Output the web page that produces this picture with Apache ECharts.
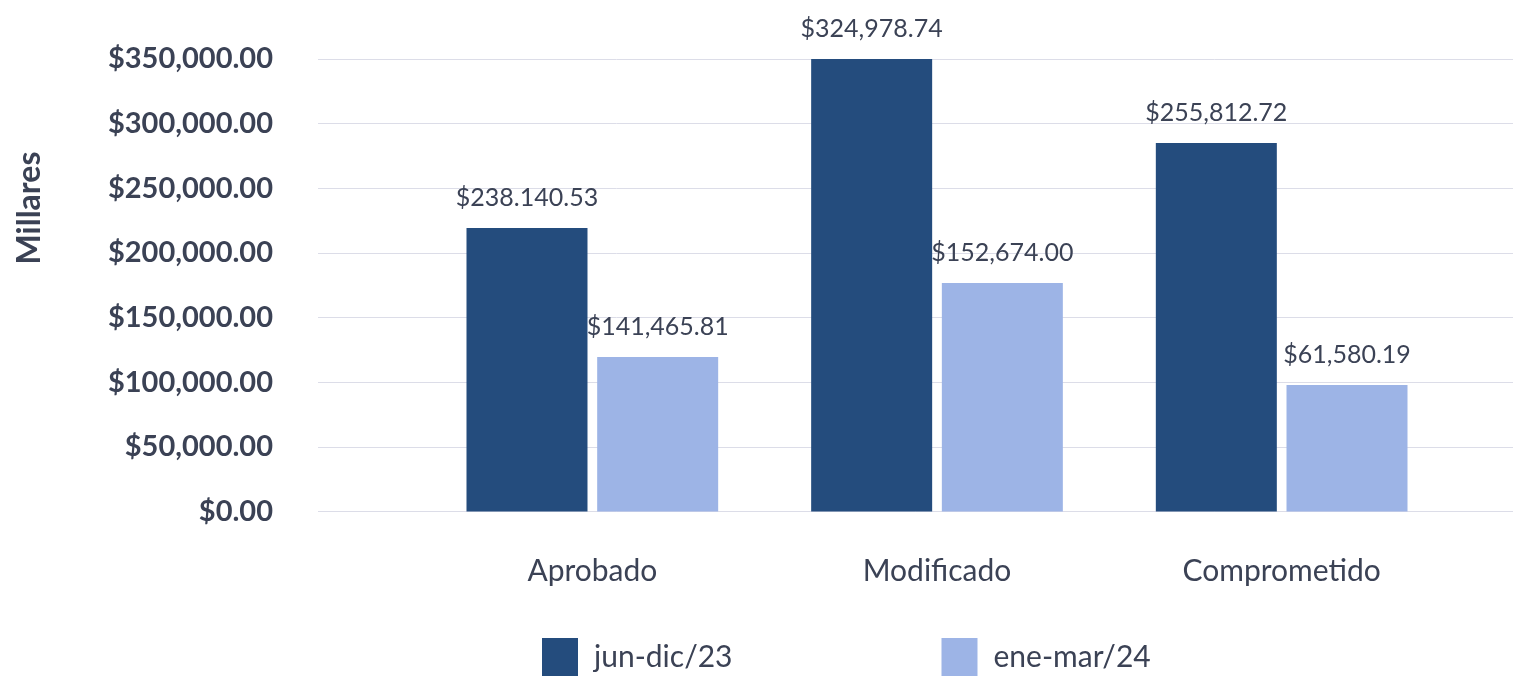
<!DOCTYPE html>
<html>
<head>
<meta charset="utf-8">
<script src="https://cdn.jsdelivr.net/npm/echarts@6/dist/echarts.min.js"></script>
<style>
  html, body { margin: 0; padding: 0; background: #fff; }
  #chart { width: 1513px; height: 679px; }
</style>
</head>
<body>
<div id="chart"></div>
<script>
// categorias y series
var categories = ['Aprobado', 'Modificado', 'Comprometido'];
var seriesNames = ['jun-dic/23', 'ene-mar/24'];
// altura de las barras tal como se ven en la grafica
var juneDec = [219300, 350000, 285000];
var eneMar = [119500, 176700, 97800];
// etiquetas tal como aparecen en la grafica
var juneDecLabels = ['$238.140.53', '$324,978.74', '$255,812.72'];
var eneMarLabels = ['$141,465.81', '$152,674.00', '$61,580.19'];
var yTicks = [0, 50000, 100000, 150000, 200000, 250000, 300000, 350000];

var textColor = '#3b4255';
var baseColor = ['#244c7d', '#9db4e6'];

function money(v) {
    return '$' + v.toLocaleString('en-US', {minimumFractionDigits: 2, maximumFractionDigits: 2});
}

var chart = echarts.init(document.getElementById('chart'));

var baseLabel = {
    show: true,
    position: 'top',
    distance: 18,
    fontFamily: 'Lato',
    fontSize: 25,
    color: textColor
};

var option = {
    color: baseColor,
    textStyle: { fontFamily: 'Lato' },
    grid: [
        // grid de las lineas y etiquetas del eje y
        { left: 318, right: 0, top: 59, bottom: 167.5 },
        // grid de las barras
        { left: 420, right: 59, top: 59, bottom: 167.5 }
    ],
    legend: {
        data: seriesNames,
        left: 542,
        top: 638,
        icon: 'rect',
        itemWidth: 36,
        itemHeight: 38,
        itemGap: 209,
        padding: 0,
        textStyle: {
            fontFamily: 'Lato',
            fontSize: 30,
            color: textColor,
            padding: [0, 0, 0, 11]
        }
    },
    graphic: [{
        type: 'text',
        x: 30,
        y: 208,
        rotation: Math.PI / 2,
        style: {
            text: 'Millares',
            fontFamily: 'Lato',
            fontSize: 32,
            fontWeight: 'bold',
            fill: textColor,
            align: 'center',
            verticalAlign: 'middle'
        }
    }],
    xAxis: [{
        gridIndex: 0,
        type: 'category',
        data: categories,
        show: false
    }, {
        gridIndex: 1,
        type: 'category',
        data: categories,
        axisLine: { show: false },
        axisTick: { show: false },
        axisLabel: {
            margin: 45,
            fontFamily: 'Lato',
            fontSize: 30,
            color: textColor
        }
    }],
    yAxis: [{
        gridIndex: 0,
        type: 'value',
        min: yTicks[0],
        max: yTicks[yTicks.length - 1],
        interval: yTicks[1] - yTicks[0],
        axisLine: { show: false },
        axisTick: { show: false },
        axisLabel: {
            margin: 45,
            fontFamily: 'Lato',
            fontSize: 29,
            fontWeight: 'bold',
            color: textColor,
            formatter: money
        },
        splitLine: { lineStyle: { color: '#dcdde8', width: 1 } }
    }, {
        gridIndex: 1,
        type: 'value',
        min: yTicks[0],
        max: yTicks[yTicks.length - 1],
        interval: yTicks[1] - yTicks[0],
        show: false,
        splitLine: { show: false }
    }],
    series: [{
        name: seriesNames[0],
        type: 'bar',
        xAxisIndex: 1,
        yAxisIndex: 1,
        barWidth: 121,
        barGap: '8%',
        data: juneDec,
        label: Object.assign({}, baseLabel, {
            formatter: function (p) { return juneDecLabels[p.dataIndex]; }
        })
    }, {
        name: seriesNames[1],
        type: 'bar',
        xAxisIndex: 1,
        yAxisIndex: 1,
        barWidth: 121,
        barGap: '8%',
        data: eneMar,
        label: Object.assign({}, baseLabel, {
            formatter: function (p) { return eneMarLabels[p.dataIndex]; }
        })
    }]
};

chart.setOption(option);
</script>
</body>
</html>
